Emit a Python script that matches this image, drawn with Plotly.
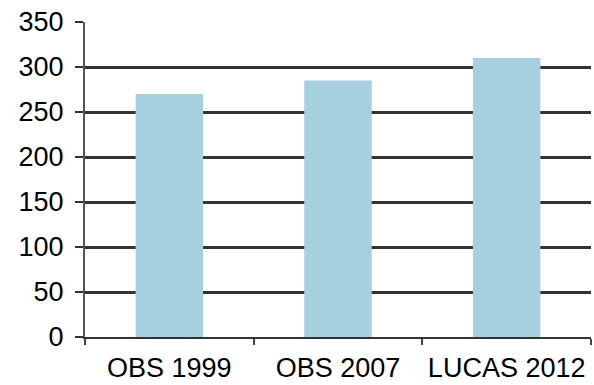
import plotly.graph_objects as go

categories = ["OBS 1999", "OBS 2007", "LUCAS 2012"]
values = [270, 285, 310]
y_ticks = [0, 50, 100, 150, 200, 250, 300, 350]

fig = go.Figure(go.Bar(
    x=categories, y=values, width=0.4,
    marker=dict(color="#a7d0de", line=dict(width=0)),
))

fig.update_layout(
    width=594, height=385,
    margin=dict(l=85, r=3, t=22, b=48),
    paper_bgcolor="white", plot_bgcolor="white",
    font=dict(family="Liberation Sans, Arial, sans-serif", color="#000000"),
    showlegend=False,
    bargap=0.6,
)
fig.update_xaxes(
    type="category", range=[-0.5, 2.5],
    showline=True, linecolor="#333333", linewidth=2,
    tickson="boundaries", ticks="outside", ticklen=6, tickwidth=2, tickcolor="#444444",
    tickfont=dict(size=27), showgrid=False, ticklabelstandoff=6,
)
fig.update_yaxes(
    range=[0, 350], tickvals=y_ticks,
    showline=True, linecolor="#555555", linewidth=2,
    ticks="outside", ticklen=8, tickwidth=2, tickcolor="#333333",
    showgrid=True, gridcolor="#333333", gridwidth=2.5,
    tickfont=dict(size=27), ticklabelstandoff=6,
    zeroline=False,
)
fig.write_html("out.html")
